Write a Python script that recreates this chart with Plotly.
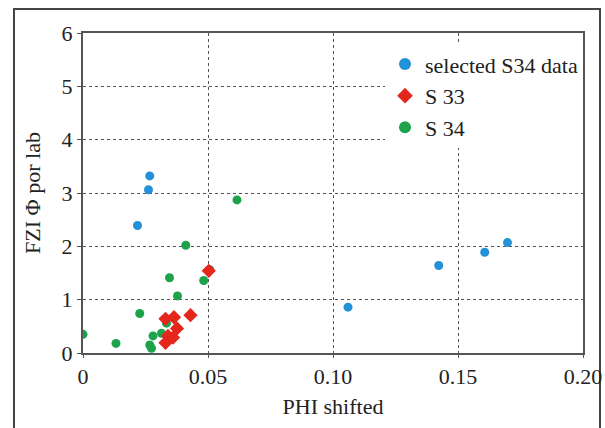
import plotly.graph_objects as go

# selected S34 data (blue)
sel_x = [0.0267, 0.0262, 0.0218, 0.106, 0.1423, 0.1607, 0.1698]
sel_y = [3.32, 3.06, 2.39, 0.86, 1.64, 1.89, 2.07]

# S 33 (red diamonds)
s33_x = [0.033, 0.0364, 0.043, 0.0376, 0.034, 0.036, 0.033, 0.0503]
s33_y = [0.64, 0.67, 0.71, 0.46, 0.32, 0.29, 0.19, 1.54]

# S 34 (green)
s34_x = [0.0616, 0.0411, 0.0507, 0.0483, 0.0346, 0.0378, 0.0227, 0.0, 0.0132,
         0.0267, 0.0274, 0.028, 0.0314, 0.0334]
s34_y = [2.87, 2.02, 1.56, 1.36, 1.41, 1.07, 0.74, 0.35, 0.18,
         0.15, 0.09, 0.32, 0.37, 0.56]

x_ticks = [0, 0.05, 0.10, 0.15, 0.20]
x_tick_labels = ["0", "0.05", "0.10", "0.15", "0.20"]
y_ticks = [0, 1, 2, 3, 4, 5, 6]

BLUE = "#2390d8"
RED = "#e5261d"
GREEN = "#1da34c"

fig = go.Figure()
fig.add_trace(go.Scatter(x=sel_x, y=sel_y, mode="markers", name="selected S34 data",
                         marker=dict(color=BLUE, size=9, symbol="circle")))
fig.add_trace(go.Scatter(x=s34_x, y=s34_y, mode="markers", name="S 34", showlegend=False,
                         marker=dict(color=GREEN, size=9, symbol="circle")))
fig.add_trace(go.Scatter(x=s33_x, y=s33_y, mode="markers", name="S 33",
                         marker=dict(color=RED, size=11, symbol="diamond")))
fig.add_trace(go.Scatter(x=[None], y=[None], mode="markers", name="S 34",
                         marker=dict(color=GREEN, size=9, symbol="circle")))

FF = "Liberation Serif"

fig.update_layout(
    width=605, height=428,
    margin=dict(l=83, r=22, t=33, b=75, autoexpand=False),
    paper_bgcolor="white", plot_bgcolor="white",
    font=dict(family=FF, size=21, color="#222"),
    showlegend=True,
    legend=dict(x=0.604, y=0.968, xanchor="left", yanchor="top",
                bgcolor="white", font=dict(family=FF, size=22, color="#222"),
                itemsizing="constant", tracegroupgap=0, itemwidth=30),
    xaxis=dict(range=[0, 0.20], tickvals=x_ticks, ticktext=x_tick_labels,
               showgrid=True, gridcolor="#555", griddash="dot", gridwidth=1,
               showline=True, linecolor="#555", linewidth=2, mirror=True,
               ticks="outside", ticklen=3, tickcolor="#555", zeroline=False,
               automargin=True,
               title=dict(text="PHI shifted", font=dict(family=FF, size=22), standoff=10),
               tickfont=dict(family=FF, size=22)),
    yaxis=dict(range=[0, 6], tickvals=y_ticks,
               showgrid=True, gridcolor="#555", griddash="dot", gridwidth=1,
               showline=True, linecolor="#555", linewidth=2, mirror=True,
               ticks="outside", ticklen=4, tickcolor="#555", zeroline=False,
               automargin=False,
               title=dict(text="FZI Φ por lab", font=dict(family=FF, size=22)),
               tickfont=dict(family=FF, size=22)),
)

fig.add_shape(type="rect", xref="paper", yref="paper",
              x0=-0.138, x1=1.034, y0=-0.3, y1=1.075,
              line=dict(color="#444", width=2), fillcolor="rgba(0,0,0,0)", layer="below")

fig.write_html("out.html", config={"displayModeBar": False},
               post_script="document.body.style.margin='0';")
